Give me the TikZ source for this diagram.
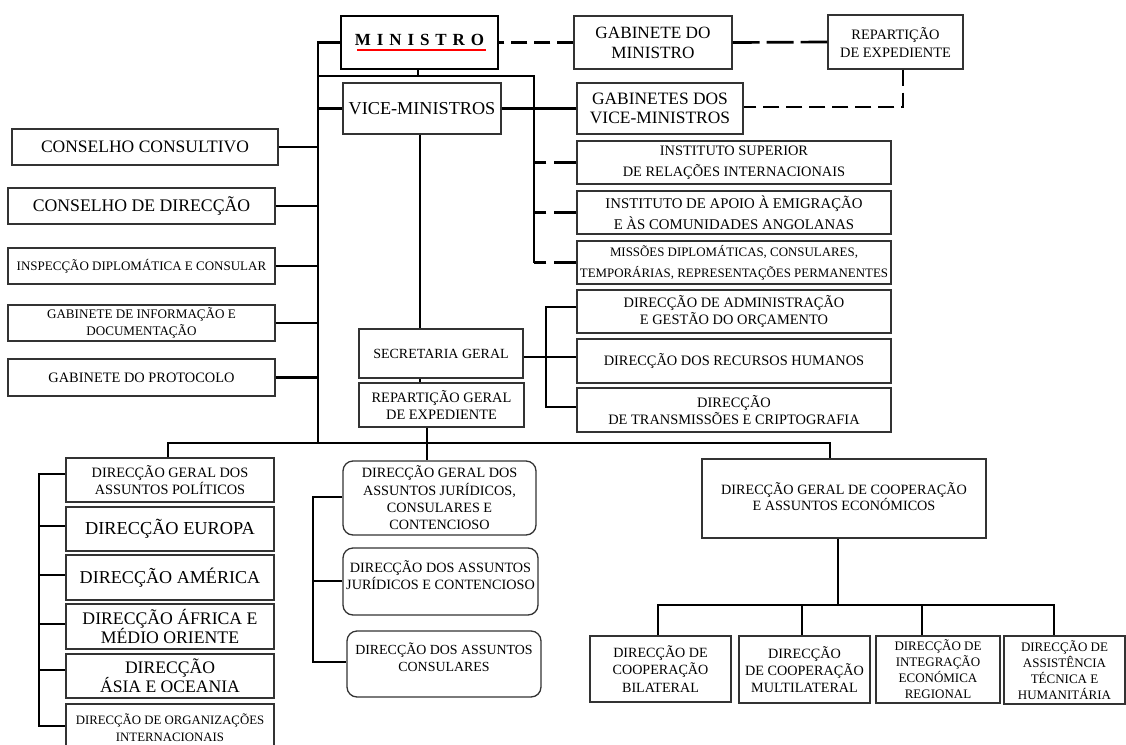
\documentclass[tikz,border=0pt]{standalone}
\usepackage{fontspec}
\setmainfont{Liberation Serif}
\usetikzlibrary{calc}
\newcommand\fsz[2]{\fontsize{#1}{#2}\selectfont}
\tikzset{
  box/.style={draw=black!80, line width=1.3pt, inner sep=0pt, align=center, fill=white},
  rbox/.style={box, rounded corners=10pt},
  conn/.style={line width=2.7pt, black, line join=miter},
  dsh/.style={line width=2.7pt, black, dash pattern=on 16pt off 7pt},
  dshl/.style={line width=2.7pt, black, dash pattern=on 27pt off 7pt},
  dshs/.style={line width=2.7pt, black, dash pattern=on 22pt off 8pt},
}
\begin{document}
\begin{tikzpicture}[x=1pt,y=-1pt]
\useasboundingbox (0,0) rectangle (1126,744);
% ---------- top ----------
\node[box, draw=black, line width=2.5pt, minimum width=157pt, minimum height=53pt, text depth=6pt,
      font={\fsz{17}{20}\bfseries}] (minis) at (419.5,42.5)
  {M\hspace{5.9pt}I\hspace{5.9pt}N\hspace{5.9pt}I\hspace{5.9pt}S\hspace{5.9pt}T\hspace{5.9pt}R\hspace{5.9pt}O};
\draw[red, line width=1.6pt] (357,50) -- (486,50);
\node[box, minimum width=158pt, minimum height=53pt, font=\fsz{17.2}{20}] (gabmin) at (653,42.5) {GABINETE DO\\MINISTRO};
\node[box, minimum width=135pt, minimum height=54pt, font=\fsz{14.4}{18}] (repexp) at (895.5,42) {REPARTIÇÃO\\DE EXPEDIENTE};
\node[box, minimum width=158pt, minimum height=51pt, font=\fsz{18.2}{20}] (vice) at (422,108.5) {VICE-MINISTROS};
\node[box, minimum width=166pt, minimum height=51pt, font=\fsz{17.4}{19}] (gabvice) at (660,108.5) {GABINETES DOS\\VICE-MINISTROS};
\node[box, minimum width=314pt, minimum height=43pt, font=\fsz{14.4}{21}] (isri) at (734,162.5) {INSTITUTO SUPERIOR\\DE RELAÇÕES INTERNACIONAIS};
\node[box, minimum width=314pt, minimum height=43pt, font=\fsz{14.8}{21.5}] (iaec) at (734,212.5) {INSTITUTO DE APOIO À EMIGRAÇÃO\\E ÀS COMUNIDADES ANGOLANAS};
\node[box, minimum width=314pt, minimum height=43pt, font=\fsz{12.9}{21}] (miss) at (734,262.5) {MISSÕES DIPLOMÁTICAS, CONSULARES,\\TEMPORÁRIAS, REPRESENTAÇÕES PERMANENTES};
% ---------- left column ----------
\node[box, minimum width=266pt, minimum height=36pt, font=\fsz{17.5}{20}] (cc) at (145,147) {CONSELHO CONSULTIVO};
\node[box, minimum width=267pt, minimum height=36pt, font=\fsz{17.7}{20}] (cd) at (141.5,206) {CONSELHO DE DIRECÇÃO};
\node[box, minimum width=267pt, minimum height=36pt, font=\fsz{13}{16}] (insp) at (141.5,266) {INSPECÇÃO DIPLOMÁTICA E CONSULAR};
\node[box, minimum width=267pt, minimum height=36pt, font=\fsz{13.1}{16.7}] (gid) at (141.5,323) {GABINETE DE INFORMAÇÃO E\\DOCUMENTAÇÃO};
\node[box, minimum width=267pt, minimum height=37pt, font=\fsz{14.4}{17}] (prot) at (141.5,377.5) {GABINETE DO PROTOCOLO};
% ---------- secretaria ----------
\node[box, minimum width=164pt, minimum height=49pt, font=\fsz{14}{17}] (sg) at (441,353.5) {SECRETARIA GERAL};
\node[box, minimum width=165pt, minimum height=44pt, font=\fsz{14.4}{17.7}] (rge) at (441.5,405) {REPARTIÇÃO GERAL\\DE EXPEDIENTE};
\node[box, minimum width=314pt, minimum height=43pt, font=\fsz{14.4}{16.5}] (dago) at (734,311.5) {DIRECÇÃO DE ADMINISTRAÇÃO\\E GESTÃO DO ORÇAMENTO};
\node[box, minimum width=314pt, minimum height=44pt, font=\fsz{14.4}{17}] (drh) at (734,361) {DIRECÇÃO DOS RECURSOS HUMANOS};
\node[box, minimum width=314pt, minimum height=44pt, font=\fsz{14.4}{16.7}] (dtc) at (734,410) {DIRECÇÃO\\DE TRANSMISSÕES E CRIPTOGRAFIA};
% ---------- bottom left ----------
\node[box, minimum width=208pt, minimum height=44pt, font=\fsz{14.3}{17}] (dgap) at (170,480) {DIRECÇÃO GERAL DOS\\ASSUNTOS POLÍTICOS};
\node[box, minimum width=208pt, minimum height=44pt, font=\fsz{18.3}{20}] (deu) at (170,529) {DIRECÇÃO EUROPA};
\node[box, minimum width=208pt, minimum height=45pt, font=\fsz{18.1}{20}] (dam) at (170,577.5) {DIRECÇÃO AMÉRICA};
\node[box, minimum width=208pt, minimum height=45pt, font=\fsz{17.7}{19.3}] (daf) at (170,626.5) {DIRECÇÃO ÁFRICA E\\MÉDIO ORIENTE};
\node[box, minimum width=208pt, minimum height=44pt, font=\fsz{17.6}{19}] (das) at (170,676) {DIRECÇÃO\\ÁSIA E OCEANIA};
\node[box, minimum width=208pt, minimum height=48pt, font=\fsz{12.8}{16.7}] (doi) at (170,728) {DIRECÇÃO DE ORGANIZAÇÕES\\INTERNACIONAIS};
% ---------- bottom middle ----------
\node[rbox, minimum width=193pt, minimum height=74pt, font=\fsz{14.2}{17.3}] (dgaj) at (439.5,498) {DIRECÇÃO GERAL DOS\\ASSUNTOS JURÍDICOS,\\CONSULARES E\\CONTENCIOSO};
\node[rbox, minimum width=195pt, minimum height=67pt, font=\fsz{14.2}{16.7}, text depth=13pt] (daj) at (440.5,581.5) {DIRECÇÃO DOS ASSUNTOS\\JURÍDICOS E CONTENCIOSO};
\node[rbox, minimum width=194pt, minimum height=66pt, font=\fsz{13.9}{16.7}, text depth=14pt] (dac) at (444,664) {DIRECÇÃO DOS ASSUNTOS\\CONSULARES};
% ---------- bottom right ----------
\node[box, minimum width=284pt, minimum height=79pt, font=\fsz{14.2}{16.7}, text depth=4pt] (dgc) at (844,498.5) {DIRECÇÃO GERAL DE COOPERAÇÃO\\E ASSUNTOS ECONÓMICOS};
\node[box, minimum width=141pt, minimum height=66pt, font=\fsz{14.1}{17.2}] (dcb) at (660.5,669) {DIRECÇÃO DE\\COOPERAÇÃO\\BILATERAL};
\node[box, minimum width=131pt, minimum height=67pt, font=\fsz{14.2}{17.2}] (dcm) at (804.5,669.5) {DIRECÇÃO\\DE COOPERAÇÃO\\MULTILATERAL};
\node[box, minimum width=124pt, minimum height=67pt, font=\fsz{13}{16}] (die) at (938,669.5) {DIRECÇÃO DE\\INTEGRAÇÃO\\ECONÓMICA\\REGIONAL};
\node[box, minimum width=121pt, minimum height=68pt, font=\fsz{13}{16}] (date) at (1064.5,670) {DIRECÇÃO DE\\ASSISTÊNCIA\\TÉCNICA E\\HUMANITÁRIA};
% ---------- coordinates ----------
\coordinate (sp) at (318,41);
\coordinate (spb) at (318,443);
\coordinate (tj) at (534,76);
\coordinate (vx) at (420,0);
\coordinate (mx) at (427,0);
\coordinate (busL) at (168,443);
\coordinate (busR) at (830,443);
\coordinate (rx) at (903,107);
\coordinate (b1) at (546,307);
\coordinate (b2) at (546,357);
\coordinate (b3) at (546,407);
\coordinate (l1) at (39,474);
\coordinate (l2) at (39,526);
\coordinate (l3) at (39,575);
\coordinate (l4) at (39,624);
\coordinate (l5) at (39,670);
\coordinate (l6) at (39,726);
\coordinate (m1) at (313,497);
\coordinate (m2) at (313,581);
\coordinate (m3) at (313,662);
\coordinate (cx) at (838,605);
\coordinate (k1) at (658,605);
\coordinate (k2) at (802,605);
\coordinate (k3) at (922,605);
\coordinate (k4) at (1054,605);
% ---------- connectors ----------
\draw[conn] (minis.west) -- (minis.west -| sp) -- (spb);
\draw[conn] (minis.south -| 418,0) -- (tj -| 418,0);
\draw[conn] (tj -| sp) -- (tj) -- (tj |- miss.west);
\draw[conn] (vice.west) -- (vice.west -| sp);
\draw[conn] (vice.east) -- (gabvice.west);
\draw[dsh] (gabmin.west) -- (minis.east);
\draw[dshl] (gabmin.east) -- (repexp.west);
\draw[dsh] (repexp.south -| rx) -- (rx) -- (gabvice.east |- rx);
\draw[dshs] (isri.west) -- (isri.west -| tj);
\draw[dshs] (iaec.west) -- (iaec.west -| tj);
\draw[dshs] (miss.west) -- (miss.west -| tj);
\foreach \n in {cc,cd,insp,gid,prot}{\draw[conn] (\n.east) -- (\n.east -| sp);}
\draw[conn] (vice.south -| vx) -- (sg.north -| vx);
\draw[conn] (sg.south -| vx) -- (rge.north -| vx);
\draw[conn] (rge.south -| mx) -- (dgaj.north -| mx);
\draw[conn] (busL |- dgap.north) -- (busL) -- (busR) -- (busR |- dgc.north);
\draw[conn] (dago.west |- b1) -- (b1) -- (b3) -- (dtc.west |- b3);
\draw[conn] (sg.east |- b2) -- (drh.west |- b2);
\draw[conn] (l1 -| dgap.west) -- (l1) -- (l6) -- (l6 -| doi.west);
\draw[conn] (l2) -- (l2 -| deu.west);
\draw[conn] (l3) -- (l3 -| dam.west);
\draw[conn] (l4) -- (l4 -| daf.west);
\draw[conn] (l5) -- (l5 -| das.west);
\draw[conn] (m1 -| dgaj.west) -- (m1) -- (m3) -- (m3 -| dac.west);
\draw[conn] (m2) -- (m2 -| daj.west);
\draw[conn] (cx |- dgc.south) -- (cx);
\draw[conn] (k1 |- dcb.north) -- (k1) -- (k4) -- (k4 |- date.north);
\draw[conn] (k2) -- (k2 |- dcm.north);
\draw[conn] (k3) -- (k3 |- die.north);
\end{tikzpicture}
\end{document}
